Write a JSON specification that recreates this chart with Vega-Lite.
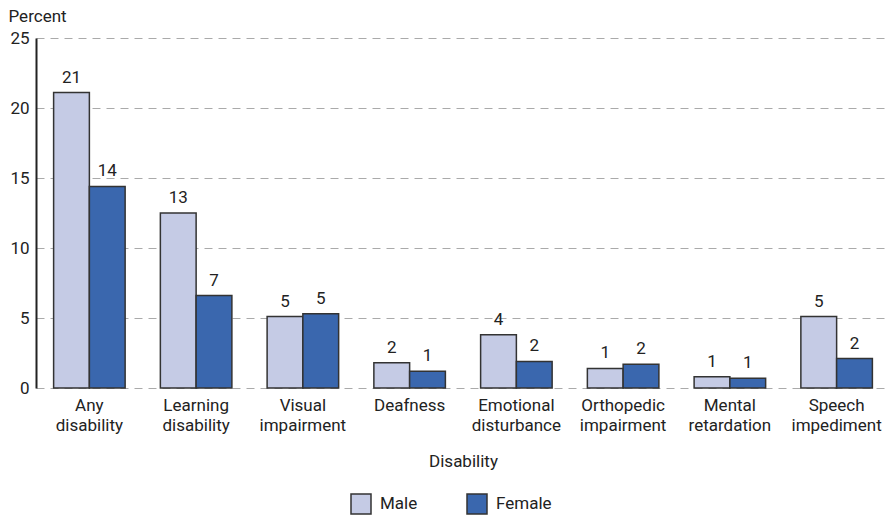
{
  "$schema": "https://vega.github.io/schema/vega-lite/v6.json",
  "width": 854,
  "height": 350,
  "autosize": {"type": "none"},
  "padding": {"left": 36, "top": 38, "right": 0, "bottom": 129},
  "background": "white",
  "config": {
    "font": "Roboto",
    "view": {"stroke": null},
    "axis": {"labelFont": "Roboto", "titleFont": "Roboto", "labelColor": "#222", "titleColor": "#222", "labelFontSize": 17, "titleFontSize": 17, "titleFontWeight": "normal"},
    "legend": {"labelFont": "Roboto", "labelFontSize": 17, "labelColor": "#222"}
  },
  "data": {
    "values": [
      {"d": "Any disability", "sex": "Male", "v": 21.1},
      {"d": "Any disability", "sex": "Female", "v": 14.4},
      {"d": "Learning disability", "sex": "Male", "v": 12.5},
      {"d": "Learning disability", "sex": "Female", "v": 6.6},
      {"d": "Visual impairment", "sex": "Male", "v": 5.1},
      {"d": "Visual impairment", "sex": "Female", "v": 5.3},
      {"d": "Deafness", "sex": "Male", "v": 1.8},
      {"d": "Deafness", "sex": "Female", "v": 1.2},
      {"d": "Emotional disturbance", "sex": "Male", "v": 3.8},
      {"d": "Emotional disturbance", "sex": "Female", "v": 1.9},
      {"d": "Orthopedic impairment", "sex": "Male", "v": 1.4},
      {"d": "Orthopedic impairment", "sex": "Female", "v": 1.7},
      {"d": "Mental retardation", "sex": "Male", "v": 0.8},
      {"d": "Mental retardation", "sex": "Female", "v": 0.7},
      {"d": "Speech impediment", "sex": "Male", "v": 5.1},
      {"d": "Speech impediment", "sex": "Female", "v": 2.1}
    ]
  },
  "encoding": {
    "x": {
      "field": "d", "type": "nominal", "sort": null,
      "scale": {"paddingInner": 0.33, "paddingOuter": 0.165},
      "axis": {
        "title": "Disability", "labelAngle": 0, "ticks": false, "domain": false,
        "labelPadding": 9, "labelLineHeight": 20, "titlePadding": 20,
        "labelExpr": "split(datum.label, ' ')"
      }
    },
    "xOffset": {"field": "sex", "type": "nominal", "sort": ["Male", "Female"]},
    "y": {
      "field": "v", "type": "quantitative",
      "scale": {"domain": [0, 25]},
      "axis": {
        "values": [0, 5, 10, 15, 20, 25], "ticks": false,
        "domainColor": "#222", "domainWidth": 2, "labelPadding": 7,
        "grid": true, "gridDash": [8, 6], "gridColor": "#aaa",
        "title": "Percent", "titleAngle": 0, "titleAlign": "left", "titleBaseline": "alphabetic",
        "titleX": -28, "titleY": -17
      }
    }
  },
  "layer": [
    {
      "mark": {"type": "bar", "stroke": "#333", "strokeWidth": 1.5},
      "encoding": {
        "color": {
          "field": "sex", "type": "nominal",
          "scale": {"domain": ["Male", "Female"], "range": ["#c5cbe5", "#3a67ae"]},
          "legend": {
            "title": null, "orient": "none", "direction": "horizontal",
            "legendX": 314, "legendY": 455, "symbolType": "square", "symbolSize": 400,
            "symbolStrokeColor": "#333", "symbolStrokeWidth": 1.5, "labelOffset": 8,
            "columnPadding": 46
          }
        }
      }
    },
    {
      "mark": {"type": "text", "baseline": "bottom", "dy": -6, "fontSize": 17, "color": "#222"},
      "encoding": {
        "text": {"field": "v", "type": "quantitative", "format": ".0f"}
      }
    },
    {
      "mark": {"type": "rule", "color": "#222", "strokeWidth": 2},
      "encoding": {"y": {"datum": 0}}
    }
  ]
}
